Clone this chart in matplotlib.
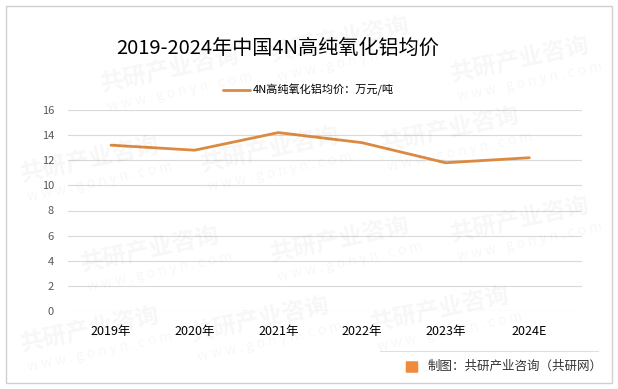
import matplotlib.pyplot as plt
from matplotlib.patches import Rectangle, FancyBboxPatch

plt.rcParams['font.family'] = ['Noto Sans CJK SC', 'DejaVu Sans']

years = ["2019年", "2020年", "2021年", "2022年", "2023年", "2024E"]
prices = [13.2, 12.8, 14.2, 13.4, 11.8, 12.2]
y_ticks = [0, 2, 4, 6, 8, 10, 12, 14, 16]

title = "2019-2024年中国4N高纯氧化铝均价"
series_name = "4N高纯氧化铝均价：万元/吨"
source = "制图：共研产业咨询（共研网）"

W, H = 618, 389


def main() -> None:
    fig = plt.figure(figsize=(W / 100, H / 100), dpi=100)

    # outer frame
    fig.patches.append(Rectangle((6 / W, 6 / H), (W - 12) / W, (H - 12) / H,
                                 transform=fig.transFigure, fill=False,
                                 edgecolor="#d0d0d0", linewidth=1))

    # faint watermarks
    for (wx, wy) in [(170, 70), (340, 40), (520, 60), (90, 160), (270, 150),
                     (450, 130), (150, 250), (340, 240), (520, 220),
                     (90, 330), (260, 320), (440, 310)]:
        fig.text(wx / W, 1 - wy / H, "共研产业咨询", fontsize=17, fontweight="bold",
                 color="#000000", alpha=0.035, rotation=12, ha="center", va="center")
        fig.text((wx + 10) / W, 1 - (wy + 22) / H, "w w w . g o n y n . c o m",
                 fontsize=10, color="#000000", alpha=0.035, rotation=12,
                 ha="center", va="center")

    ax = fig.add_axes([68 / W, 1 - 311 / H, (582 - 68) / W, (311 - 110) / H])
    x = list(range(len(years)))
    line, = ax.plot(x, prices, color="#DC8A40", linewidth=2.0, label=series_name,
                    solid_capstyle="round")

    ax.set_xlim(-0.514, 5.63)
    ax.set_ylim(0, 16)
    ax.set_yticks(y_ticks)
    ax.set_xticks(x)
    ax.set_xticklabels(years, fontsize=9, color="#000000")
    ax.tick_params(axis="y", labelsize=8, colors="#595959", length=0, pad=10)
    ax.tick_params(axis="x", length=0, pad=10)
    for s in ax.spines.values():
        s.set_visible(False)
    ax.grid(axis="y", color="#d9d9d9", linewidth=0.8)
    ax.set_axisbelow(True)
    ax.patch.set_alpha(0)

    fig.text(278 / W, 1 - 48 / H, title, fontsize=14.5, ha="center", va="center",
             color="#000000")

    fig.legend(handles=[line], loc="center", bbox_to_anchor=(308 / W, 1 - 90 / H),
               frameon=False, fontsize=8, handlelength=2.5, handletextpad=0.2)

    # bottom separator and source
    fig.add_artist(plt.Line2D([380 / W, 598 / W], [1 - 351 / H, 1 - 351 / H],
                              transform=fig.transFigure, color="#e0e0e0",
                              linewidth=0.8))
    fig.patches.append(FancyBboxPatch((407 / W, 1 - 372 / H), 10 / W, 10 / H,
                                      boxstyle="round,pad=0.002",
                                      transform=fig.transFigure,
                                      facecolor="#F08A3C", edgecolor="none"))
    fig.text(428 / W, 1 - 366 / H, source, fontsize=9, ha="left", va="center",
             color="#333333")

    plt.savefig("out.png", dpi=100)


if __name__ == "__main__":
    main()
